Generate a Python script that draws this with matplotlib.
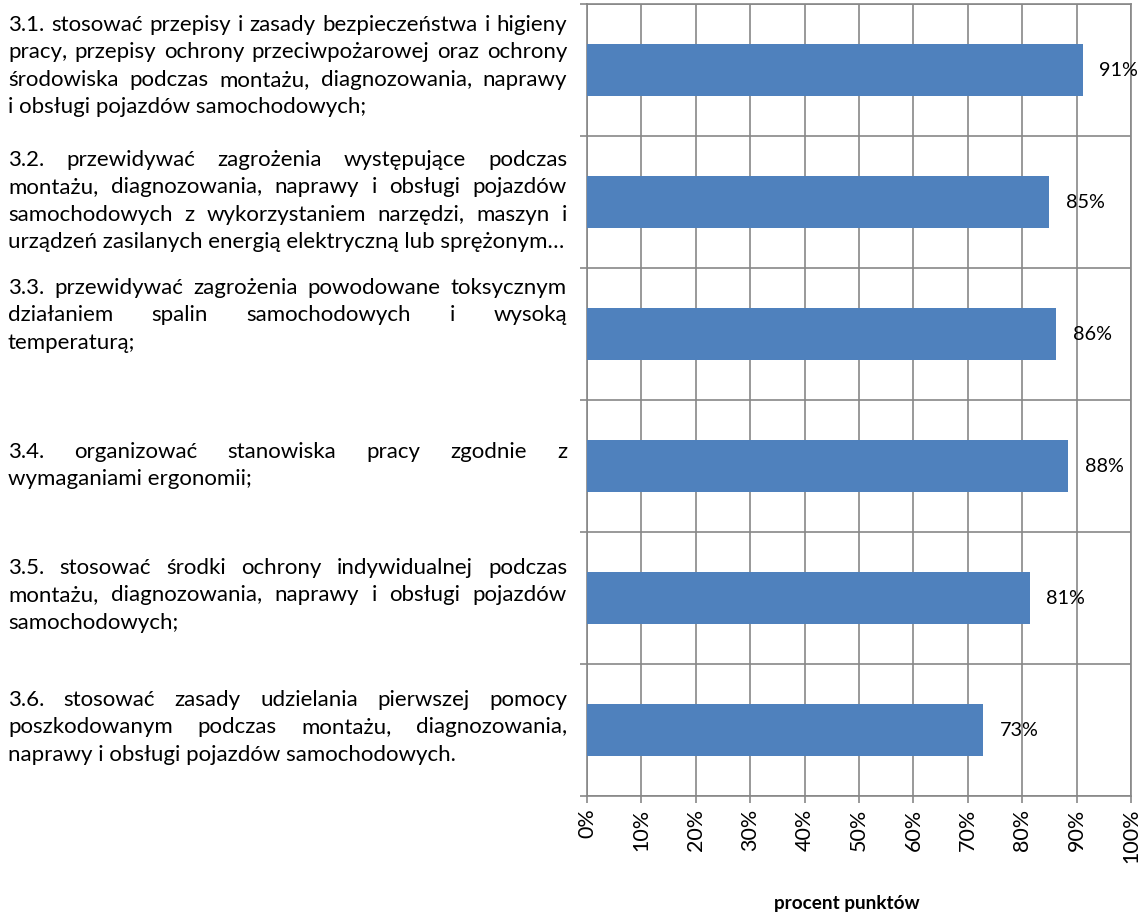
import matplotlib.pyplot as plt
import numpy as np

plt.rcParams['font.family'] = ['Lato', 'DejaVu Sans']

# Data
labels = [
    ["3.1. stosować przepisy i zasady bezpieczeństwa i higieny",
     "pracy, przepisy ochrony przeciwpożarowej oraz ochrony",
     "środowiska podczas  montażu, diagnozowania, naprawy",
     "i obsługi pojazdów samochodowych;"],
    ["3.2. przewidywać zagrożenia występujące podczas",
     "montażu, diagnozowania, naprawy i obsługi pojazdów",
     "samochodowych z wykorzystaniem narzędzi, maszyn i",
     "urządzeń zasilanych energią elektryczną lub sprężonym…"],
    ["3.3. przewidywać zagrożenia powodowane toksycznym",
     "działaniem spalin samochodowych i wysoką",
     "temperaturą;"],
    ["3.4. organizować stanowiska pracy zgodnie z",
     "wymaganiami ergonomii;"],
    ["3.5. stosować środki ochrony indywidualnej podczas",
     "montażu, diagnozowania, naprawy i obsługi pojazdów",
     "samochodowych;"],
    ["3.6. stosować zasady udzielania pierwszej pomocy",
     "poszkodowanym podczas montażu, diagnozowania,",
     "naprawy i obsługi pojazdów samochodowych."],
]
values = [91.1, 85.0, 86.2, 88.4, 81.4, 72.8]
x_ticks = list(range(0, 101, 10))
x_title = "procent punktów"

W, H = 1146, 913
fig = plt.figure(figsize=(W / 100, H / 100), dpi=100)
ax = fig.add_axes([587 / W, 1 - 796 / H, (1131 - 587) / W, (796 - 4) / H])

grid_c = '#878787'
bar_c = '#4F81BD'
fs_text = 16
fs_val = 14.3
fs_tick = 15.5

y = np.arange(len(values))
ax.barh(y, values, height=0.4, color=bar_c, zorder=3)
for yi, v in zip(y, values):
    ax.annotate(f"{v:.0f}%", (v, yi), xytext=(12, 0), textcoords='offset points',
                va='center', ha='left', fontsize=fs_val, zorder=4)

ax.set_xlim(0, 100)
ax.set_ylim(len(values) - 0.5, -0.5)
ax.set_xticks(x_ticks)
ax.set_xticklabels([f"{t}%" for t in x_ticks], rotation=90, fontsize=fs_tick)
ax.set_yticks(np.arange(-0.5, len(values), 1.0))
ax.set_yticklabels([])
ax.tick_params(axis='both', direction='out', length=5, width=1.2, color=grid_c, pad=4)
ax.grid(True, color=grid_c, linewidth=1.2, zorder=0)
ax.set_axisbelow(True)
for s in ax.spines.values():
    s.set_color(grid_c)
    s.set_linewidth(1.2)

fig.text(847 / W, 1 - 903 / H, x_title, ha='center', va='center',
         fontsize=13.6, fontweight='bold')

# category texts, justified between left and right edge
left, right = 8, 567
first_line_y = [25, 160, 288, 452, 568, 700]
line_step = 27.3
renderer = fig.canvas.get_renderer()
for lines, y0 in zip(labels, first_line_y):
    for i, line in enumerate(lines):
        yy = 1 - (y0 + i * line_step) / H
        if i == len(lines) - 1:
            fig.text(left / W, yy, line, ha='left', va='center', fontsize=fs_text)
            continue
        words = line.split()
        arts = [fig.text(0, yy, w, ha='left', va='center', fontsize=fs_text) for w in words]
        widths = [a.get_window_extent(renderer).width for a in arts]
        gap = (right - left - sum(widths)) / (len(words) - 1)
        x = left
        for a, w in zip(arts, widths):
            a.set_x(x / W)
            x += w + gap

fig.savefig('out.png', dpi=100)
